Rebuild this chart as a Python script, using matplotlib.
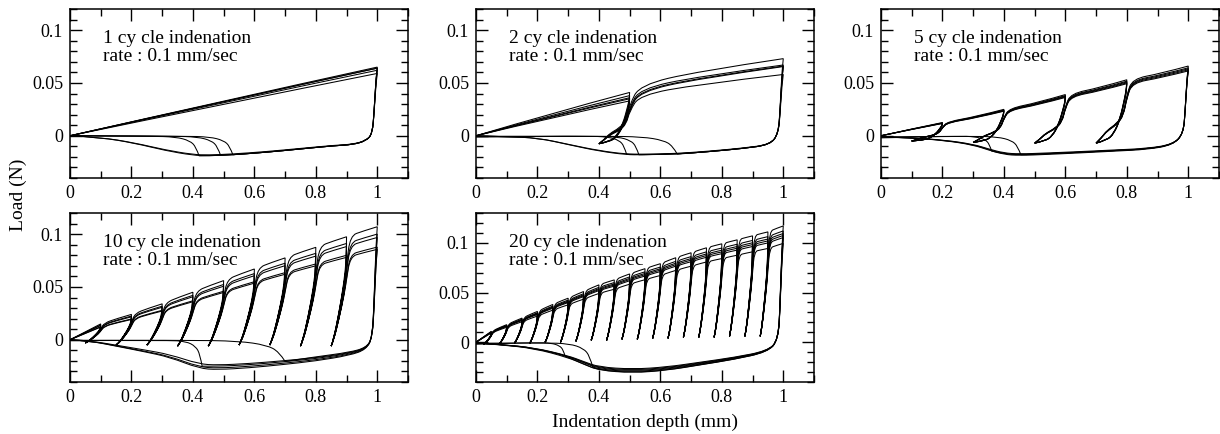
import matplotlib
matplotlib.use("Agg")
import matplotlib.pyplot as plt
from matplotlib.path import Path
from matplotlib.patches import PathPatch
from matplotlib.ticker import FixedLocator, MultipleLocator

plt.rcParams['font.family'] = ['Liberation Serif', 'DejaVu Serif']

# ---------------- text ----------------
panel_titles = ["1 cy cle indenation", "2 cy cle indenation", "5 cy cle indenation",
                "10 cy cle indenation", "20 cy cle indenation"]
rate_text = "rate : 0.1 mm/sec"
x_label = "Indentation depth (mm)"
y_label = "Load (N)"
x_major = [0, 0.2, 0.4, 0.6, 0.8, 1.0]
x_major_labels = ["0", "0.2", "0.4", "0.6", "0.8", "1"]
y_major = [0, 0.05, 0.1]
y_major_labels = ["0", "0.05", "0.1"]

# ---------------- loop shape templates (read from the loops) ----------------
wide_unload_x = [0, 0.01, 0.06, 0.22, 0.43, 0.65, 1.0]
wide_unload_f = [1, 0.88, 0.74, 0.39, 0.15, 0.05, 0]
wide_reload_x = [0, 0.18, 0.35, 0.67, 0.89, 1.0]
wide_reload_f = [0, 0.09, 0.2, 0.31, 0.46, 0.76]
narrow_unload_x = [0, 0.02, 0.15, 0.5, 0.85, 1.0]
narrow_unload_f = [1, 0.8, 0.6, 0.3, 0.06, 0]
narrow_reload_x = [0, 0.15, 0.5, 0.85, 1.0]
narrow_reload_f = [0, 0.06, 0.3, 0.58, 0.75]
drop_dx = [0, 0.004, 0.01]
drop_f = [1, 0.86, 0.38]
detach_dx = [0, 0.01, 0.03, 0.075, 0.16]
detach_f = [1, 0.55, 0.25, 0.06, 0.02]

# ---------------- panel 1 : 1 cycle ----------------
p1_peak_depth = [1.0]
p1_valley_depth = []
p1_valley_load = []
p1_peak_load = [[0.065], [0.064], [0.064], [0.062], [0.059]]
p1_final_x = [0.984, 0.964, 0.92, 0.86, 0.75, 0.64, 0.53, 0.45, 0.40, 0.31, 0.21, 0.10, 0.0]
p1_final_y = [0.002, -0.0047, -0.0084, -0.0094, -0.0125, -0.0156, -0.018, -0.019, -0.0185,
              -0.014, -0.007, -0.0016, 0.0]
p1_final_scale = [1.0, 0.96, 1.0, 1.0, 1.0]
p1_detach = [None, None, (0.42, -0.019, 1.0, 0.0), (0.49, -0.0185, 1.0, 0.0), (0.53, -0.018, 1.0, 0.0)]

# ---------------- panel 2 : 2 cycles ----------------
p2_peak_depth = [0.5, 1.0]
p2_valley_depth = [0.4]
p2_valley_load = [-0.0076]
p2_peak_load = [[0.041, 0.073], [0.038, 0.067], [0.036, 0.066], [0.035, 0.0655], [0.033, 0.058]]
p2_final_x = [0.984, 0.957, 0.87, 0.76, 0.65, 0.54, 0.49, 0.40, 0.31, 0.20, 0.10, 0.0]
p2_final_y = [0.002, -0.0085, -0.012, -0.015, -0.0174, -0.018, -0.018, -0.0145, -0.009,
              -0.002, -0.001, 0.0]
p2_final_scale = [1.0, 0.97, 1.0, 1.0, 1.0]
p2_detach = [None, None, (0.49, -0.0175, 0.8, -0.001), (0.53, -0.018, 0.9, -0.001),
             (0.655, -0.0174, 1.5, -0.0005)]

# ---------------- panel 3 : 5 cycles ----------------
p3_peak_depth = [0.2, 0.4, 0.6, 0.8, 1.0]
p3_valley_depth = [0.1, 0.3, 0.5, 0.7]
p3_valley_load = [-0.005, -0.0063, -0.007, -0.007]
p3_peak_top = [0.0125, 0.025, 0.039, 0.053, 0.066]
p3_trial_scale = [1.0, 0.975, 0.96, 0.945, 0.93]
p3_final_x = [0.984, 0.95, 0.867, 0.76, 0.65, 0.54, 0.45, 0.40, 0.35, 0.30, 0.21, 0.10, 0.0]
p3_final_y = [0.002, -0.0084, -0.0125, -0.014, -0.0156, -0.017, -0.018, -0.017, -0.013,
              -0.0084, -0.0044, -0.002, -0.001]
p3_final_scale = [1.0, 0.96, 1.0, 1.0, 1.04]
p3_detach = [None, None, (0.455, -0.018, 1.0, -0.001), (0.36, -0.0145, 0.7, -0.002), None]

# ---------------- panel 4 : 10 cycles ----------------
p4_peak_depth = [0.1, 0.2, 0.3, 0.4, 0.5, 0.6, 0.7, 0.8, 0.9, 1.0]
p4_valley_depth = [0.05, 0.15, 0.25, 0.35, 0.45, 0.55, 0.65, 0.75, 0.85]
p4_valley_load = [-0.003, -0.005, -0.005, -0.006, -0.006, -0.005, -0.005, -0.006, -0.006]
p4_peak_top = [0.015, 0.024, 0.034, 0.045, 0.056, 0.067, 0.0775, 0.0875, 0.0975, 0.107]
p4_trial_scale = [1.0, 0.935, 0.905, 0.82, 0.80]
p4_final_x = [0.984, 0.964, 0.91, 0.8, 0.69, 0.585, 0.48, 0.42, 0.325, 0.24, 0.16, 0.065, 0.0]
p4_final_y = [0.002, -0.0078, -0.0125, -0.017, -0.020, -0.0225, -0.024, -0.023, -0.014,
              -0.0095, -0.0056, -0.001, 0.0]
p4_final_scale = [1.0, 1.05, 1.12, 0.95, 1.18]
p4_detach = [None, (0.43, -0.025, 0.7, -0.0008), None, (0.70, -0.0205, 2.0, -0.0005), None]

# ---------------- panel 5 : 20 cycles ----------------
p5_peak_depth = [0.05, 0.1, 0.15, 0.2, 0.25, 0.3, 0.35, 0.4, 0.45, 0.5,
                 0.55, 0.6, 0.65, 0.7, 0.75, 0.8, 0.85, 0.9, 0.95, 1.0]
p5_valley_depth = [0.025, 0.075, 0.125, 0.175, 0.225, 0.275, 0.325, 0.375, 0.425, 0.475,
                   0.525, 0.575, 0.625, 0.675, 0.725, 0.775, 0.825, 0.875, 0.925]
p5_valley_load = [-0.002, -0.002, -0.001, -0.001, 0.0, 0.0, 0.001, 0.002, 0.002, 0.003,
                  0.003, 0.004, 0.004, 0.005, 0.005, 0.005, 0.006, 0.006, 0.006]
p5_peak_top = [0.011, 0.0177, 0.0243, 0.031, 0.038, 0.0443, 0.051, 0.0577, 0.0627, 0.0687,
               0.074, 0.079, 0.085, 0.09, 0.095, 0.099, 0.103, 0.107, 0.111, 0.117]
p5_trial_scale = [1.0, 0.957, 0.935, 0.918, 0.9, 0.85]
p5_final_x = [0.984, 0.948, 0.84, 0.73, 0.62, 0.51, 0.40, 0.35, 0.30, 0.19, 0.08, 0.0]
p5_final_y = [0.002, -0.009, -0.0157, -0.0207, -0.0257, -0.028, -0.0257, -0.020, -0.014,
              -0.0057, -0.0023, -0.0007]
p5_final_scale = [1.0, 1.03, 1.06, 0.97, 1.09, 1.1]
p5_detach = [None, None, (0.38, -0.025, 1.0, -0.001), None, (0.29, -0.014, 0.6, -0.002), None]

# knee parameters: (knee width mm, knee fraction, mid position, mid fraction, first-load mid)
p1_knee = (0.0, 0.0, 0.5, 0.5, 0.51)
p2_knee = (0.033, 0.22, 0.4, 0.62, 0.53)
p3_knee = (0.018, 0.07, 0.5, 0.45, 0.52)
p4_knee = (0.012, 0.1, 0.45, 0.55, 0.5)
p5_knee = (0.006, 0.1, 0.45, 0.55, 0.5)

panels = [
    dict(D=p1_peak_depth, Vd=p1_valley_depth, Vl=p1_valley_load, P=p1_peak_load,
         fx=p1_final_x, fy=p1_final_y, fs=p1_final_scale, det=p1_detach, knee=p1_knee,
         wide=True, ylim=(-0.04, 0.12)),
    dict(D=p2_peak_depth, Vd=p2_valley_depth, Vl=p2_valley_load, P=p2_peak_load,
         fx=p2_final_x, fy=p2_final_y, fs=p2_final_scale, det=p2_detach, knee=p2_knee,
         wide=True, ylim=(-0.04, 0.12)),
    dict(D=p3_peak_depth, Vd=p3_valley_depth, Vl=p3_valley_load,
         P=[[v * s for v in p3_peak_top] for s in p3_trial_scale],
         fx=p3_final_x, fy=p3_final_y, fs=p3_final_scale, det=p3_detach, knee=p3_knee,
         wide=True, ylim=(-0.04, 0.12)),
    dict(D=p4_peak_depth, Vd=p4_valley_depth, Vl=p4_valley_load,
         P=[[v * s for v in p4_peak_top] for s in p4_trial_scale],
         fx=p4_final_x, fy=p4_final_y, fs=p4_final_scale, det=p4_detach, knee=p4_knee,
         wide=False, ylim=(-0.04, 0.12)),
    dict(D=p5_peak_depth, Vd=p5_valley_depth, Vl=p5_valley_load,
         P=[[v * s for v in p5_peak_top] for s in p5_trial_scale],
         fx=p5_final_x, fy=p5_final_y, fs=p5_final_scale, det=p5_detach, knee=p5_knee,
         wide=False, ylim=(-0.04, 0.13)),
]


def chains_to_path(chains):
    verts = [chains[0][0]]
    codes = [Path.MOVETO]
    for pts in chains:
        m = len(pts) - 1
        if m == 1:
            verts.append(pts[1]); codes.append(Path.LINETO)
            continue
        for i in range(1, m - 1):
            mid = ((pts[i][0] + pts[i + 1][0]) / 2, (pts[i][1] + pts[i + 1][1]) / 2)
            verts += [pts[i], mid]; codes += [Path.CURVE3, Path.CURVE3]
        verts += [pts[m - 1], pts[m]]; codes += [Path.CURVE3, Path.CURVE3]
    return Path(verts, codes)


def trial_chains(cfg, ti):
    D, Vd, Vl = cfg['D'], cfg['Vd'], cfg['Vl']
    P = cfg['P'][ti]
    kw, kg, mt, mg, fm = cfg['knee']
    if cfg['wide']:
        ux, uf, rx, rf = wide_unload_x, wide_unload_f, wide_reload_x, wide_reload_f
    else:
        ux, uf, rx, rf = narrow_unload_x, narrow_unload_f, narrow_reload_x, narrow_reload_f
    chains = [[(0.0, 0.0), (0.5 * D[0], fm * P[0]), (D[0], P[0])]]
    for k in range(len(D) - 1):
        span = D[k] - Vd[k]
        chains.append([(D[k] - a * span, Vl[k] + f * (P[k] - Vl[k])) for a, f in zip(ux, uf)])
        rel = [(Vd[k] + a * span, Vl[k] + f * (P[k] - Vl[k])) for a, f in zip(rx, rf)]
        s = D[k + 1] - D[k]
        rel += [(D[k] + kw, P[k] + kg * (P[k + 1] - P[k])),
                (D[k] + kw + mt * (s - kw), P[k] + mg * (P[k + 1] - P[k])),
                (D[k + 1], P[k + 1])]
        chains.append(rel)
    # final unloading
    fs = cfg['fs'][ti]
    fin = [(D[-1] - dx, f * P[-1]) for dx, f in zip(drop_dx, drop_f)]
    det = cfg['det'][ti]
    if det is None:
        fin += [(x, y * fs) for x, y in zip(cfg['fx'], cfg['fy'])]
        chains.append(fin)
    else:
        xd, yd, w, yend = det
        fin += [(x, y * fs) for x, y in zip(cfg['fx'], cfg['fy']) if x > xd + 0.01]
        fin.append((xd, yd))
        chains.append(fin)
        dch = [(xd - dx * w, yd * f) for dx, f in zip(detach_dx, detach_f)]
        dch.append((0.0, yend))
        chains.append(dch)
    return chains


W, H = 1220, 434
fig = plt.figure(figsize=(W / 100, H / 100), dpi=100)
boxes = [(70, 9), (476, 9), (881, 9), (70, 213), (476, 213)]
bw, bh = 338, 169

for idx, (cfg, (lx, ty)) in enumerate(zip(panels, boxes)):
    ax = fig.add_axes([lx / W, 1 - (ty + bh) / H, bw / W, bh / H])
    for ti in range(len(cfg['P'])):
        path = chains_to_path(trial_chains(cfg, ti))
        ax.add_patch(PathPatch(path, facecolor='none', edgecolor='black', lw=0.75))
    ax.set_xlim(0, 1.1)
    ax.set_ylim(*cfg['ylim'])
    ax.xaxis.set_major_locator(FixedLocator(x_major))
    ax.set_xticklabels(x_major_labels)
    ax.xaxis.set_minor_locator(MultipleLocator(0.1))
    ax.yaxis.set_major_locator(FixedLocator(y_major))
    ax.set_yticklabels(y_major_labels)
    ax.yaxis.set_minor_locator(MultipleLocator(0.01))
    ax.tick_params(which='both', direction='in', top=True, right=True, width=1.0,
                   labelsize=13, colors='black')
    ax.tick_params(which='major', length=8.5, pad=5)
    ax.tick_params(which='minor', length=4.8)
    for sp in ax.spines.values():
        sp.set_linewidth(1.1)
    ax.text(0.098, 0.828, panel_titles[idx], transform=ax.transAxes, fontsize=14,
            ha='left', va='center')
    ax.text(0.098, 0.716, rate_text, transform=ax.transAxes, fontsize=14,
            ha='left', va='center')

fig.text(18 / W, 1 - 195 / H, y_label, rotation=90, ha='center', va='center', fontsize=14)
fig.text(645 / W, 1 - 422 / H, x_label, ha='center', va='center', fontsize=14)

fig.savefig("out.png", dpi=100)
